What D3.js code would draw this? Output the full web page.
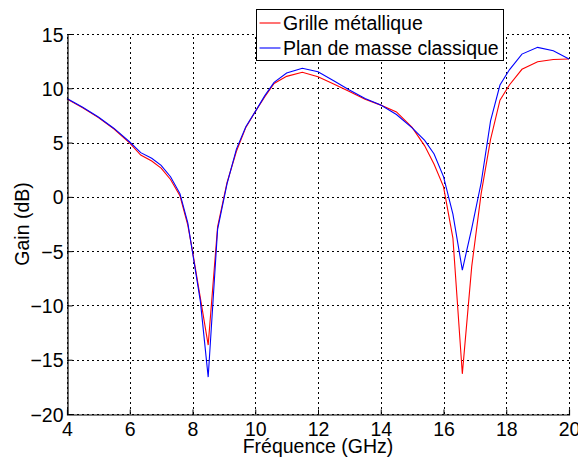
<!DOCTYPE html>
<html lang="fr">
<head>
  <meta charset="UTF-8">
  <title>Gain vs fréquence</title>
  <script src="https://d3js.org/d3.v7.min.js"></script>
  <style>
    body { margin: 0; background: #fff; }
    svg text { font-family: Arial, "Liberation Sans", sans-serif; font-size: 19.5px; fill: #000; }
  </style>
</head>
<body>
<div id="chart"></div>
<script>
  // frequency samples (GHz)
  const freq = [4, 4.5, 5, 5.5, 6, 6.35, 6.7, 7.0, 7.3, 7.6, 7.85, 8.0, 8.25, 8.5, 8.8, 9.1, 9.4, 9.7,
    10, 10.3, 10.6, 11, 11.5, 12, 12.5, 13, 13.5, 14, 14.5, 15, 15.4, 15.7, 16.0, 16.3, 16.6, 16.9,
    17.2, 17.5, 17.8, 18.1, 18.5, 19.0, 19.5, 20];
  // gain (dB), grille metallique
  const gainGrille = [9.0, 8.2, 7.3, 6.25, 4.95, 3.85, 3.3, 2.65, 1.6, 0.1, -2.6, -5.0, -9.3, -13.65, -2.75, 1.3, 4.2, 6.4,
    7.85, 9.2, 10.45, 11.1, 11.47, 11.07, 10.4, 9.7, 9.0, 8.45, 7.82, 6.4, 4.7, 3.0, 0.94, -3.8, -16.3, -6.4,
    0.3, 5.3, 8.9, 10.3, 11.75, 12.45, 12.65, 12.7];
  // gain (dB), plan de masse classique
  const gainPlan = [9.05, 8.25, 7.35, 6.3, 5.05, 4.07, 3.55, 2.9, 1.85, 0.3, -2.4, -5.1, -9.6, -16.6, -3.0, 1.2, 4.4, 6.45,
    7.85, 9.3, 10.55, 11.4, 11.84, 11.53, 10.7, 9.85, 9.05, 8.45, 7.58, 6.35, 5.2, 3.95, 1.86, -1.6, -6.74, -2.9,
    1.3, 7.0, 10.3, 11.7, 13.15, 13.77, 13.45, 12.7];

  const seriesNames = ["Grille métallique", "Plan de masse classique"];
  const seriesColors = ["#ff0000", "#0000ff"];
  const xTicks = [4, 6, 8, 10, 12, 14, 16, 18, 20];
  const yTicks = [-20, -15, -10, -5, 0, 5, 10, 15];

  const W = 578, H = 459;
  const margin = { left: 67, right: 9, top: 34, bottom: 45 };

  const svg = d3.select("#chart").append("svg")
    .attr("width", W).attr("height", H);

  const x = d3.scaleLinear().domain([4, 20]).range([margin.left, W - margin.right]);
  const y = d3.scaleLinear().domain([-20, 15]).range([H - margin.bottom, margin.top]);

  // dotted grid
  const grid = svg.append("g")
    .attr("stroke", "#000").attr("stroke-width", 1).attr("stroke-dasharray", "2,3");
  xTicks.forEach(t => {
    grid.append("line").attr("x1", Math.round(x(t)) + 0.5).attr("x2", Math.round(x(t)) + 0.5)
      .attr("y1", y(-20)).attr("y2", y(15));
  });
  yTicks.forEach(t => {
    grid.append("line").attr("y1", Math.round(y(t)) + 0.5).attr("y2", Math.round(y(t)) + 0.5)
      .attr("x1", x(4)).attr("x2", x(20));
  });

  // curves
  const series = [gainGrille, gainPlan];
  const line = d3.line().x(d => x(d[0])).y(d => y(d[1]));
  series.forEach((s, i) => {
    svg.append("path")
      .datum(freq.map((f, k) => [f, s[k]]))
      .attr("d", line)
      .attr("fill", "none")
      .attr("stroke", seriesColors[i])
      .attr("stroke-width", 1.1);
  });

  // axes (left and bottom only, ticks inward)
  const xAxis = svg.append("g")
    .attr("transform", `translate(0,${Math.round(y(-20)) + 0.5})`)
    .call(d3.axisBottom(x).tickValues(xTicks).tickSize(-5).tickPadding(8).tickFormat(d3.format("d")));
  const yAxis = svg.append("g")
    .attr("transform", `translate(${Math.round(x(4)) + 0.5},0)`)
    .call(d3.axisLeft(y).tickValues(yTicks).tickSize(-5).tickPadding(4).tickFormat(d3.format("d")));
  [xAxis, yAxis].forEach(a => {
    a.select(".domain").attr("stroke", "#000").attr("stroke-width", 1.2);
    a.selectAll(".tick line").attr("stroke", "#000");
    a.selectAll("text").attr("font-size", null).attr("font-family", null);
  });
  xAxis.selectAll("text").attr("dy", "0.7em");
  yAxis.selectAll("text").attr("dy", "0.36em");

  // axis labels
  svg.append("text")
    .attr("x", (x(4) + x(20)) / 2).attr("y", 453)
    .attr("text-anchor", "middle")
    .text("Fréquence (GHz)");
  svg.append("text")
    .attr("transform", `translate(29,${(y(-20) + y(15)) / 2}) rotate(-90)`)
    .attr("text-anchor", "middle")
    .text("Gain (dB)");

  // legend
  const legend = svg.append("g").attr("transform", "translate(256.5,9.5)");
  legend.append("rect")
    .attr("width", 247).attr("height", 51)
    .attr("fill", "#fff").attr("stroke", "#000").attr("stroke-width", 1);
  seriesNames.forEach((name, i) => {
    const ly = 13.5 + i * 25;
    legend.append("line")
      .attr("x1", 3).attr("x2", 24).attr("y1", ly).attr("y2", ly)
      .attr("stroke", seriesColors[i]).attr("stroke-width", 1.1);
    legend.append("text")
      .attr("x", 26.5).attr("y", ly).attr("dy", "0.36em")
      .text(name);
  });
</script>
</body>
</html>
